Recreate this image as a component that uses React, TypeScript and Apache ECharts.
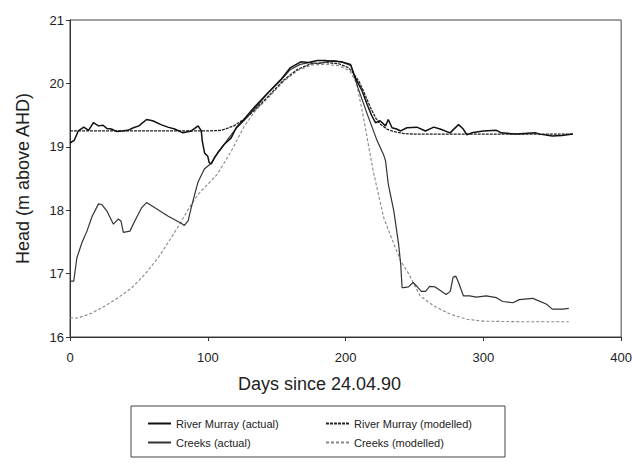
import React, { useEffect, useRef } from "react";
import * as echarts from "echarts";

const riverActualDays = [0,3,6,10,13.5,17,20.7,24,26.7,30,34,37.5,42,46,50,55.6,60,66,71,76,82,88,93,95.3,96,97.7,100,101,102.5,105,108,112,117,120.6,126.5,133.6,143.5,153,160,167.5,173,179.6,185,191,197,203.6,207,212,215.6,219,221.7,225,229,231,233.7,237,240,244.5,251.7,258,264,268.6,275.8,282,285.4,288,291.5,300,309.5,313,324,338,341,350,357,365];
const riverActualHead = [19.06,19.1,19.25,19.31,19.26,19.38,19.33,19.34,19.29,19.28,19.24,19.25,19.26,19.3,19.33,19.43,19.41,19.35,19.31,19.28,19.22,19.25,19.33,19.25,19.09,18.9,18.85,18.75,18.73,18.83,18.93,19.04,19.14,19.3,19.44,19.62,19.85,20.06,20.25,20.34,20.33,20.36,20.36,20.35,20.34,20.3,20.09,19.88,19.67,19.49,19.38,19.41,19.33,19.43,19.3,19.28,19.25,19.3,19.31,19.25,19.31,19.28,19.22,19.35,19.28,19.19,19.22,19.25,19.26,19.22,19.2,19.22,19.2,19.17,19.18,19.2];

const riverModelDays = [0,20,40,60,80,100,110,119,128,135,145,155,165,175,185,195,202,206,210,213,218,222,225,230,235,242,250,270,300,330,365];
const riverModelHead = [19.25,19.25,19.25,19.25,19.25,19.25,19.26,19.33,19.46,19.6,19.82,20.05,20.22,20.31,20.33,20.31,20.25,20.15,20.02,19.88,19.62,19.45,19.36,19.28,19.24,19.21,19.2,19.2,19.2,19.2,19.2];

const creekActualDays = [0,2.7,5,8.7,12.3,16,20.7,23,26.7,31.5,35,37,38.7,43.5,47,52,55.6,61.6,71,81,83,85.7,88,90.5,93,97.5,102.5,105,110,116,121,127,134,143,153,160,167,174,180,186,192,198,204,209,216,223,227.5,229,231,235,238.5,240,241,242,245.7,249,251.7,255,258,261,265,273,276,278,280,282,285.5,290,295,302,309.5,314,321.5,326,336,338,345.6,350,357.6,362];
const creekActualHead = [16.88,16.88,17.25,17.49,17.67,17.9,18.1,18.09,17.99,17.78,17.86,17.83,17.65,17.67,17.83,18.04,18.12,18.04,17.91,17.79,17.76,17.83,18.04,18.25,18.45,18.65,18.74,18.84,18.98,19.16,19.3,19.43,19.6,19.83,20.05,20.22,20.3,20.33,20.31,20.34,20.36,20.33,20.28,19.93,19.5,19.09,18.88,18.78,18.41,17.99,17.46,17.15,16.78,16.78,16.79,16.86,16.8,16.72,16.72,16.8,16.79,16.67,16.72,16.94,16.96,16.86,16.65,16.65,16.63,16.65,16.62,16.56,16.54,16.59,16.61,16.59,16.52,16.44,16.44,16.45];

const creekModelDays = [0,6,16,25.5,35,45,54.4,64,73.6,81,85.7,93,100,107,117,126.6,135,145,155,165,175,185,195,203,208,213,220,227.7,235,240,246,254,264,276,288,300,330,362];
const creekModelHead = [16.3,16.3,16.38,16.49,16.62,16.78,16.99,17.25,17.57,17.83,18.01,18.25,18.41,18.57,18.93,19.33,19.58,19.8,20.03,20.2,20.29,20.3,20.28,20.2,20.0,19.46,18.62,17.88,17.47,17.2,16.99,16.65,16.49,16.36,16.28,16.25,16.24,16.24];

const seriesNames = ["River Murray (actual)", "Creeks (actual)", "River Murray (modelled)", "Creeks (modelled)"];
const xTicks = { min: 0, max: 400, interval: 100 };
const yTicks = { min: 16, max: 21, interval: 1 };

const zip = (a: number[], b: number[]) => a.map((d, i) => [d, b[i]]);

export default function App() {
  const ref = useRef<HTMLDivElement>(null);
  useEffect(() => {
    if (!ref.current) return;
    const chart = echarts.init(ref.current, undefined, { renderer: "svg" });
    const font = "Liberation Sans, Arial, sans-serif";
    const legendBase = {
      orient: "vertical",
      top: 413,
      height: 40,
      itemWidth: 23,
      itemHeight: 10,
      itemGap: 8,
      itemStyle: { opacity: 0 },
      textStyle: { fontSize: 11, color: "#222", fontFamily: font },
    };
    chart.setOption({
      animation: false,
      backgroundColor: "#fff",
      textStyle: { fontFamily: font },
      grid: { left: 70, right: 11, top: 20, bottom: 126, show: true, borderColor: "#444", borderWidth: 1 },
      xAxis: {
        type: "value",
        ...xTicks,
        name: "Days since 24.04.90",
        nameLocation: "middle",
        nameGap: 38,
        nameTextStyle: { fontSize: 18, color: "#222", fontFamily: font, padding: [0, 52, 0, 0] },
        axisLine: { show: true, lineStyle: { color: "#333" } },
        axisTick: { show: true, length: 4, lineStyle: { color: "#333" } },
        axisLabel: { fontSize: 13, color: "#222", margin: 14, fontFamily: font },
        splitLine: { show: false },
      },
      yAxis: {
        type: "value",
        ...yTicks,
        name: "Head (m above AHD)",
        nameLocation: "middle",
        nameGap: 38,
        nameTextStyle: { fontSize: 18, color: "#222", fontFamily: font },
        axisLine: { show: true, lineStyle: { color: "#333" } },
        axisTick: { show: true, length: 4, lineStyle: { color: "#333" } },
        axisLabel: { fontSize: 13, color: "#222", margin: 6, fontFamily: font },
        splitLine: { show: false },
      },
      legend: [
        { ...legendBase, data: [seriesNames[0], seriesNames[1]], left: 142 },
        { ...legendBase, data: [seriesNames[2], seriesNames[3]], left: 320 },
      ],
      graphic: [
        {
          type: "rect",
          shape: { x: 131, y: 406, width: 374, height: 51 },
          style: { fill: "none", stroke: "#444", lineWidth: 1 },
        },
      ],
      series: [
        {
          name: seriesNames[0],
          type: "line",
          data: zip(riverActualDays, riverActualHead),
          symbol: "none",
          lineStyle: { color: "#111", width: 1.5 },
          itemStyle: { color: "#111" },
          z: 4,
        },
        {
          name: seriesNames[1],
          type: "line",
          data: zip(creekActualDays, creekActualHead),
          symbol: "none",
          lineStyle: { color: "#333", width: 1.2 },
          itemStyle: { color: "#333" },
          z: 3,
        },
        {
          name: seriesNames[2],
          type: "line",
          data: zip(riverModelDays, riverModelHead),
          symbol: "none",
          lineStyle: { color: "#222", width: 1.3, type: [3, 1] },
          itemStyle: { color: "#222" },
          z: 2,
        },
        {
          name: seriesNames[3],
          type: "line",
          data: zip(creekModelDays, creekModelHead),
          symbol: "none",
          lineStyle: { color: "#888", width: 1.1, type: [3, 2] },
          itemStyle: { color: "#888" },
          z: 1,
        },
      ],
    });
    return () => chart.dispose();
  }, []);
  return <div ref={ref} style={{ position: "fixed", left: 0, top: 0, width: 635, height: 463 }} />;
}
